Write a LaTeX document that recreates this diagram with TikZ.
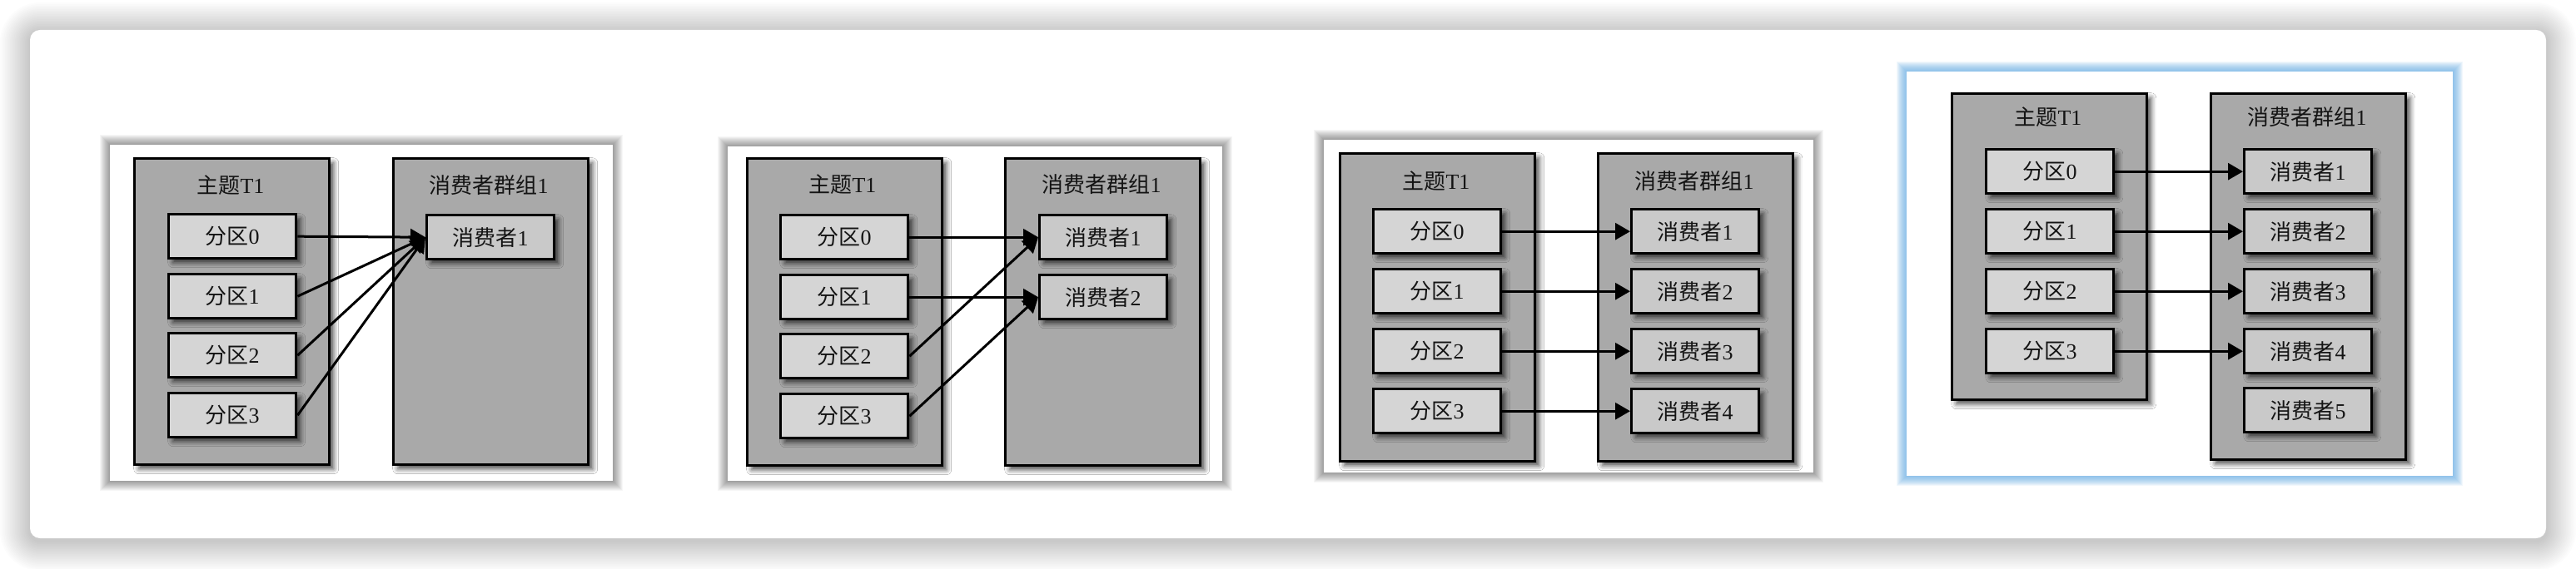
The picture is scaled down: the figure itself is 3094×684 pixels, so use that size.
\documentclass[tikz,border=0pt]{standalone}
\usepackage{fontspec}
\setmainfont{Liberation Serif}
\newfontfamily\cjkfont{Noto Sans CJK SC}
\usetikzlibrary{arrows.meta,shadows.blur}
\definecolor{biggray}{HTML}{A9A9A9}
\definecolor{partgray}{HTML}{D5D5D5}
\definecolor{consgray}{HTML}{C9C9C9}
\definecolor{glowblue}{RGB}{95,170,228}
\newcommand\zh[1]{{\cjkfont #1}}
\begin{document}
\begin{tikzpicture}[x=1pt,y=-1pt,
  txt/.style={font=\fontsize{26pt}{30pt}\selectfont, text=black!92},
  boxshadow/.style={blur shadow={shadow xshift=5pt, shadow yshift=-5pt, shadow blur radius=6pt, shadow opacity=70}},
  bigbox/.style={draw=black, line width=3.4pt, fill=biggray, anchor=north west, inner sep=0pt, minimum width=234pt, boxshadow},
  partbox/.style={draw=black, line width=3.4pt, fill=partgray, anchor=north west, inner sep=0pt, minimum width=153pt, minimum height=53pt, txt, boxshadow},
  consbox/.style={partbox, fill=consgray},
  titletext/.style={txt, inner sep=0pt},
  flow/.style={line width=3pt, -{Triangle[length=18pt,width=20pt]}},
]
\useasboundingbox (0,0) rectangle (3094,684);
\fill[white] (0,0) rectangle (3094,684);
% card shadow
\foreach \i in {1,...,18}{
  \pgfmathsetmacro\rr{12+2*\i}
  \fill[black, opacity=0.010, rounded corners=\rr pt] (36-2*\i,39-2*\i) rectangle (3058+2*\i,650+2*\i);
}
\fill[white, rounded corners=12pt] (36,36) rectangle (3058,647);
% image frames
\foreach \a/\b/\c/\d in {132/174/736/578, 874/176/1468/578, 1590/168/2178/568}{
  \foreach \i in {1,...,12}{\fill[black, opacity=0.035] (\a-\i,\b-\i) rectangle (\c+\i,\d+\i);}
  \fill[white] (\a,\b) rectangle (\c,\d);
}
\foreach \i in {1,...,12}{\fill[glowblue, opacity=0.085] (2290-\i,86-\i) rectangle (2946+\i,572+\i);}
\fill[white] (2290,86) rectangle (2946,572);

% ---------- panel 1 ----------
\node[bigbox, minimum height=368pt] (a-t) at (160,189) {};
\node[bigbox, minimum height=368pt] (a-g) at (471,189) {};
\node[titletext] (a-tt) at (277,223) {\zh{主题}T1};
\node[titletext] (a-gt) at (587,223) {\zh{消费者群组}1};
\node[partbox] (a-p0) at (201,256) {\zh{分区}0};
\node[partbox] (a-p1) at (201,328) {\zh{分区}1};
\node[partbox] (a-p2) at (201,399) {\zh{分区}2};
\node[partbox] (a-p3) at (201,471) {\zh{分区}3};
\node[consbox] (a-c1) at (511,257) {\zh{消费者}1};
\draw[flow] (a-p0.east) -- (a-c1.west);
\draw[flow] (a-p1.east) -- (a-c1.west);
\draw[flow] (a-p2.east) -- (a-c1.west);
\draw[flow] (a-p3.east) -- (a-c1.west);

% ---------- panel 2 ----------
\node[bigbox, minimum height=369pt] (b-t) at (896,189) {};
\node[bigbox, minimum height=369pt] (b-g) at (1206,189) {};
\node[titletext] (b-tt) at (1012,222) {\zh{主题}T1};
\node[titletext] (b-gt) at (1323,222) {\zh{消费者群组}1};
\node[partbox] (b-p0) at (936,257) {\zh{分区}0};
\node[partbox] (b-p1) at (936,329) {\zh{分区}1};
\node[partbox] (b-p2) at (936,400) {\zh{分区}2};
\node[partbox] (b-p3) at (936,472) {\zh{分区}3};
\node[consbox] (b-c1) at (1247,257) {\zh{消费者}1};
\node[consbox] (b-c2) at (1247,329) {\zh{消费者}2};
\draw[flow] (b-p0.east) -- (b-c1.west);
\draw[flow] (b-p1.east) -- (b-c2.west);
\draw[flow] (b-p2.east) -- (b-c1.west);
\draw[flow] (b-p3.east) -- (b-c2.west);

% ---------- panel 3 ----------
\node[bigbox, minimum height=370pt] (c-t) at (1608,183) {};
\node[bigbox, minimum height=370pt] (c-g) at (1918,183) {};
\node[titletext] (c-tt) at (1725,218) {\zh{主题}T1};
\node[titletext] (c-gt) at (2035,218) {\zh{消费者群组}1};
\node[partbox] (c-p0) at (1648,250) {\zh{分区}0};
\node[partbox] (c-p1) at (1648,322) {\zh{分区}1};
\node[partbox] (c-p2) at (1648,394) {\zh{分区}2};
\node[partbox] (c-p3) at (1648,466) {\zh{分区}3};
\node[consbox] (c-c1) at (1958,250) {\zh{消费者}1};
\node[consbox] (c-c2) at (1958,322) {\zh{消费者}2};
\node[consbox] (c-c3) at (1958,394) {\zh{消费者}3};
\node[consbox] (c-c4) at (1958,466) {\zh{消费者}4};
\draw[flow] (c-p0.east) -- (c-c1.west);
\draw[flow] (c-p1.east) -- (c-c2.west);
\draw[flow] (c-p2.east) -- (c-c3.west);
\draw[flow] (c-p3.east) -- (c-c4.west);

% ---------- panel 4 ----------
\node[bigbox, minimum height=368pt] (d-t) at (2343,111) {};
\node[bigbox, minimum height=440pt] (d-g) at (2654,111) {};
\node[titletext] (d-tt) at (2460,141) {\zh{主题}T1};
\node[titletext] (d-gt) at (2771,141) {\zh{消费者群组}1};
\node[partbox] (d-p0) at (2384,178) {\zh{分区}0};
\node[partbox] (d-p1) at (2384,250) {\zh{分区}1};
\node[partbox] (d-p2) at (2384,322) {\zh{分区}2};
\node[partbox] (d-p3) at (2384,394) {\zh{分区}3};
\node[consbox] (d-c1) at (2694,178) {\zh{消费者}1};
\node[consbox] (d-c2) at (2694,250) {\zh{消费者}2};
\node[consbox] (d-c3) at (2694,322) {\zh{消费者}3};
\node[consbox] (d-c4) at (2694,394) {\zh{消费者}4};
\node[consbox] (d-c5) at (2694,465) {\zh{消费者}5};
\draw[flow] (d-p0.east) -- (d-c1.west);
\draw[flow] (d-p1.east) -- (d-c2.west);
\draw[flow] (d-p2.east) -- (d-c3.west);
\draw[flow] (d-p3.east) -- (d-c4.west);
\end{tikzpicture}
\end{document}
